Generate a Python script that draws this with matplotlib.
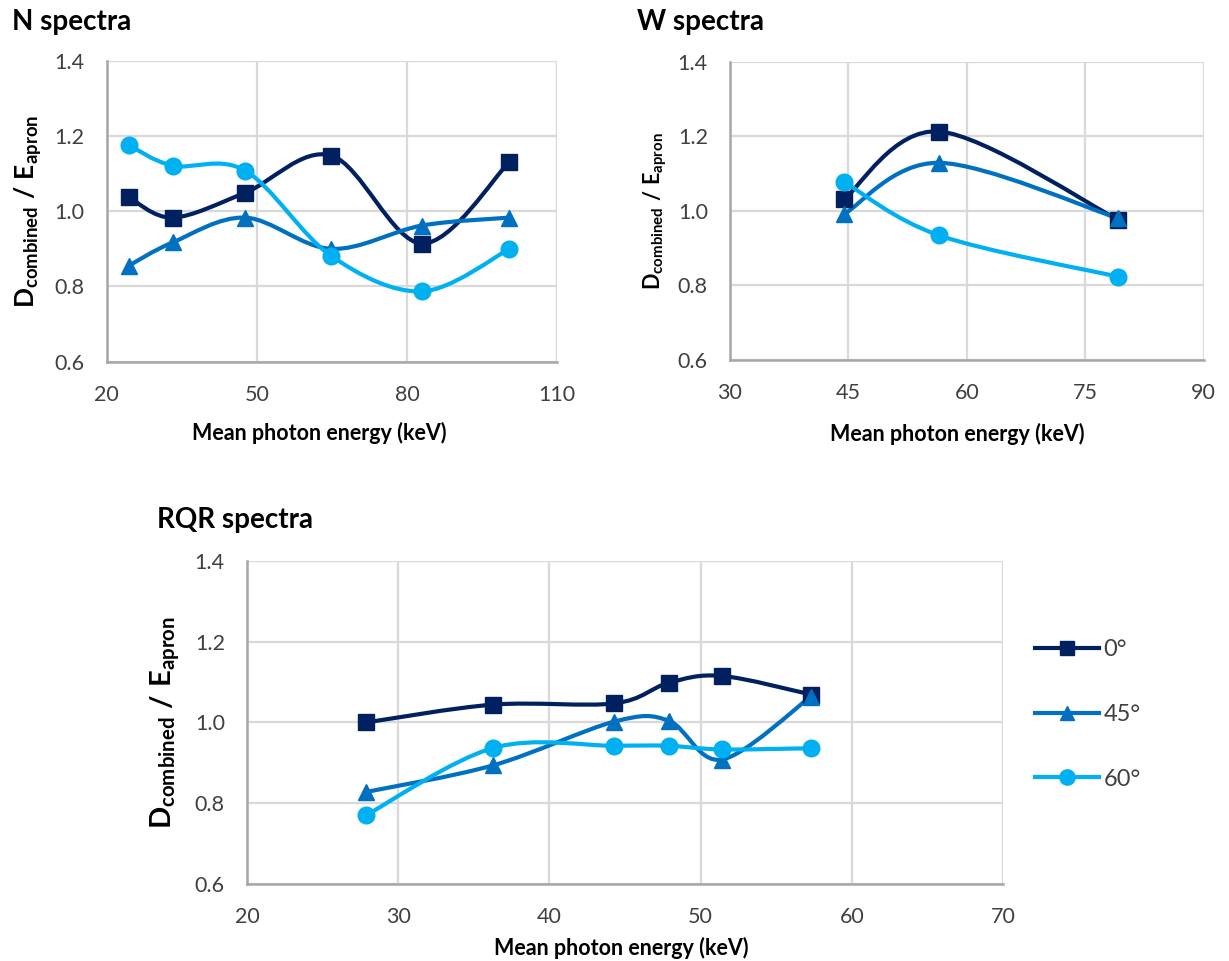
import matplotlib
matplotlib.use('Agg')
import matplotlib.pyplot as plt
import numpy as np
from matplotlib.path import Path
from matplotlib.patches import PathPatch
from matplotlib.lines import Line2D

plt.rcParams['font.family'] = ['Lato', 'DejaVu Sans']
plt.rcParams['mathtext.fontset'] = 'custom'
plt.rcParams['mathtext.rm'] = 'Lato:bold'
plt.rcParams['mathtext.it'] = 'Lato:bold'
plt.rcParams['mathtext.bf'] = 'Lato:bold'

# mean photon energies (keV) for each beam quality series
n_energy = [24.4, 33.2, 47.7, 64.9, 83.0, 100.4]
w_energy = [44.5, 56.5, 79.2]
rqr_energy = [27.9, 36.3, 44.3, 47.9, 51.4, 57.3]

# D_combined / E_apron at 0, 45 and 60 degrees
n_0 = [1.038, 0.983, 1.049, 1.148, 0.914, 1.130]
n_45 = [0.855, 0.917, 0.983, 0.900, 0.962, 0.983]
n_60 = [1.176, 1.121, 1.108, 0.881, 0.787, 0.899]

w_0 = [1.033, 1.213, 0.976]
w_45 = [0.992, 1.129, 0.980]
w_60 = [1.077, 0.934, 0.823]

rqr_0 = [1.000, 1.044, 1.047, 1.098, 1.115, 1.069]
rqr_45 = [0.828, 0.894, 1.002, 1.004, 0.908, 1.064]
rqr_60 = [0.771, 0.937, 0.942, 0.942, 0.933, 0.936]

angles = ['0°', '45°', '60°']
colors = ['#002060', '#0070c0', '#00b0f0']
markers = ['s', '^', 'o']
msizes = [11, 11, 12]

TICK_COLOR = '#404040'
GRID_COLOR = '#d9d9d9'
AXIS_COLOR = '#a6a6a6'


def smooth_path(x, y):
    # Bezier segments like a spreadsheet "smoothed line"
    x = np.asarray(x, float)
    y = np.asarray(y, float)
    pts = np.column_stack([x, y])
    n = len(pts)
    verts = [pts[0]]
    codes = [Path.MOVETO]
    for i in range(n - 1):
        p0 = pts[i - 1] if i > 0 else pts[i]
        p1 = pts[i]
        p2 = pts[i + 1]
        p3 = pts[i + 2] if i + 2 < n else pts[i + 1]
        c1 = p1 + (p2 - p0) / 6.0
        c2 = p2 - (p3 - p1) / 6.0
        verts += [c1, c2, p2]
        codes += [Path.CURVE4] * 3
    return Path(verts, codes)


def draw_panel(ax, energy, series, xlim, xticks, ylab_size, ylab_x, xlab_xy):
    for vals, c, m, ms in zip(series, colors, markers, msizes):
        ax.add_patch(PathPatch(smooth_path(energy, vals), fill=False,
                               edgecolor=c, lw=3.0, zorder=3,
                               capstyle='round', joinstyle='round'))
        ax.plot(energy, vals, linestyle='none', marker=m, ms=ms,
                color=c, zorder=4)
    ax.set_xlim(*xlim)
    ax.set_ylim(0.6, 1.4)
    ax.set_xticks(xticks)
    ax.set_yticks([0.6, 0.8, 1.0, 1.2, 1.4])
    ax.yaxis.set_major_formatter(matplotlib.ticker.FormatStrFormatter('%.1f'))
    ax.grid(True, color=GRID_COLOR, lw=1.6, zorder=0)
    ax.set_axisbelow(True)
    for side in ['top', 'right']:
        ax.spines[side].set_visible(False)
    for side in ['left', 'bottom']:
        ax.spines[side].set_color(AXIS_COLOR)
        ax.spines[side].set_linewidth(1.8)
    ax.tick_params(length=0, labelsize=15.5, colors=TICK_COLOR)
    ax.tick_params(axis='x', pad=16.5)
    ax.tick_params(axis='y', pad=16)
    ax.set_xlabel('Mean photon energy (keV)', fontsize=15.5, fontweight='bold',
                  va='center')
    ax.set_ylabel(r'$\mathrm{D_{combined}\ /\ E_{apron}}$', fontsize=ylab_size,
                  va='center')
    ax.xaxis.set_label_coords(*xlab_xy)
    ax.yaxis.set_label_coords(ylab_x, 0.5)


fig = plt.figure(figsize=(12.29, 9.61), dpi=100)

ax_n = fig.add_axes([0.0867, 0.6236, 0.3666, 0.3132])
draw_panel(ax_n, n_energy, [n_0, n_45, n_60], (20, 110), [20, 50, 80, 110],
           19, -0.174, (0.472, -0.237))

ax_w = fig.add_axes([0.5940, 0.6256, 0.3853, 0.3100])
draw_panel(ax_w, w_energy, [w_0, w_45, w_60], (30, 90), [30, 45, 60, 75, 90],
           15.5, -0.158, (0.479, -0.248))

ax_r = fig.add_axes([0.2010, 0.0801, 0.6151, 0.3364])
draw_panel(ax_r, rqr_energy, [rqr_0, rqr_45, rqr_60], (20, 70),
           [20, 30, 40, 50, 60, 70], 21, -0.108, (0.495, -0.198))

fig.text(0.0098, 0.977, 'N spectra', fontsize=20, fontweight='bold', va='center')
fig.text(0.518, 0.977, 'W spectra', fontsize=20, fontweight='bold', va='center')
fig.text(0.128, 0.459, 'RQR spectra', fontsize=20, fontweight='bold', va='center')

handles = [Line2D([], [], color=c, marker=m, ms=ms - 1, lw=3.0)
           for c, m, ms in zip(colors, markers, msizes)]
fig.legend(handles, angles, loc='upper left', bbox_to_anchor=(0.825, 0.357),
           frameon=False, fontsize=17, handlelength=2.7, handletextpad=0.2,
           labelspacing=1.85, labelcolor=TICK_COLOR)

fig.savefig('out.png', dpi=100)
